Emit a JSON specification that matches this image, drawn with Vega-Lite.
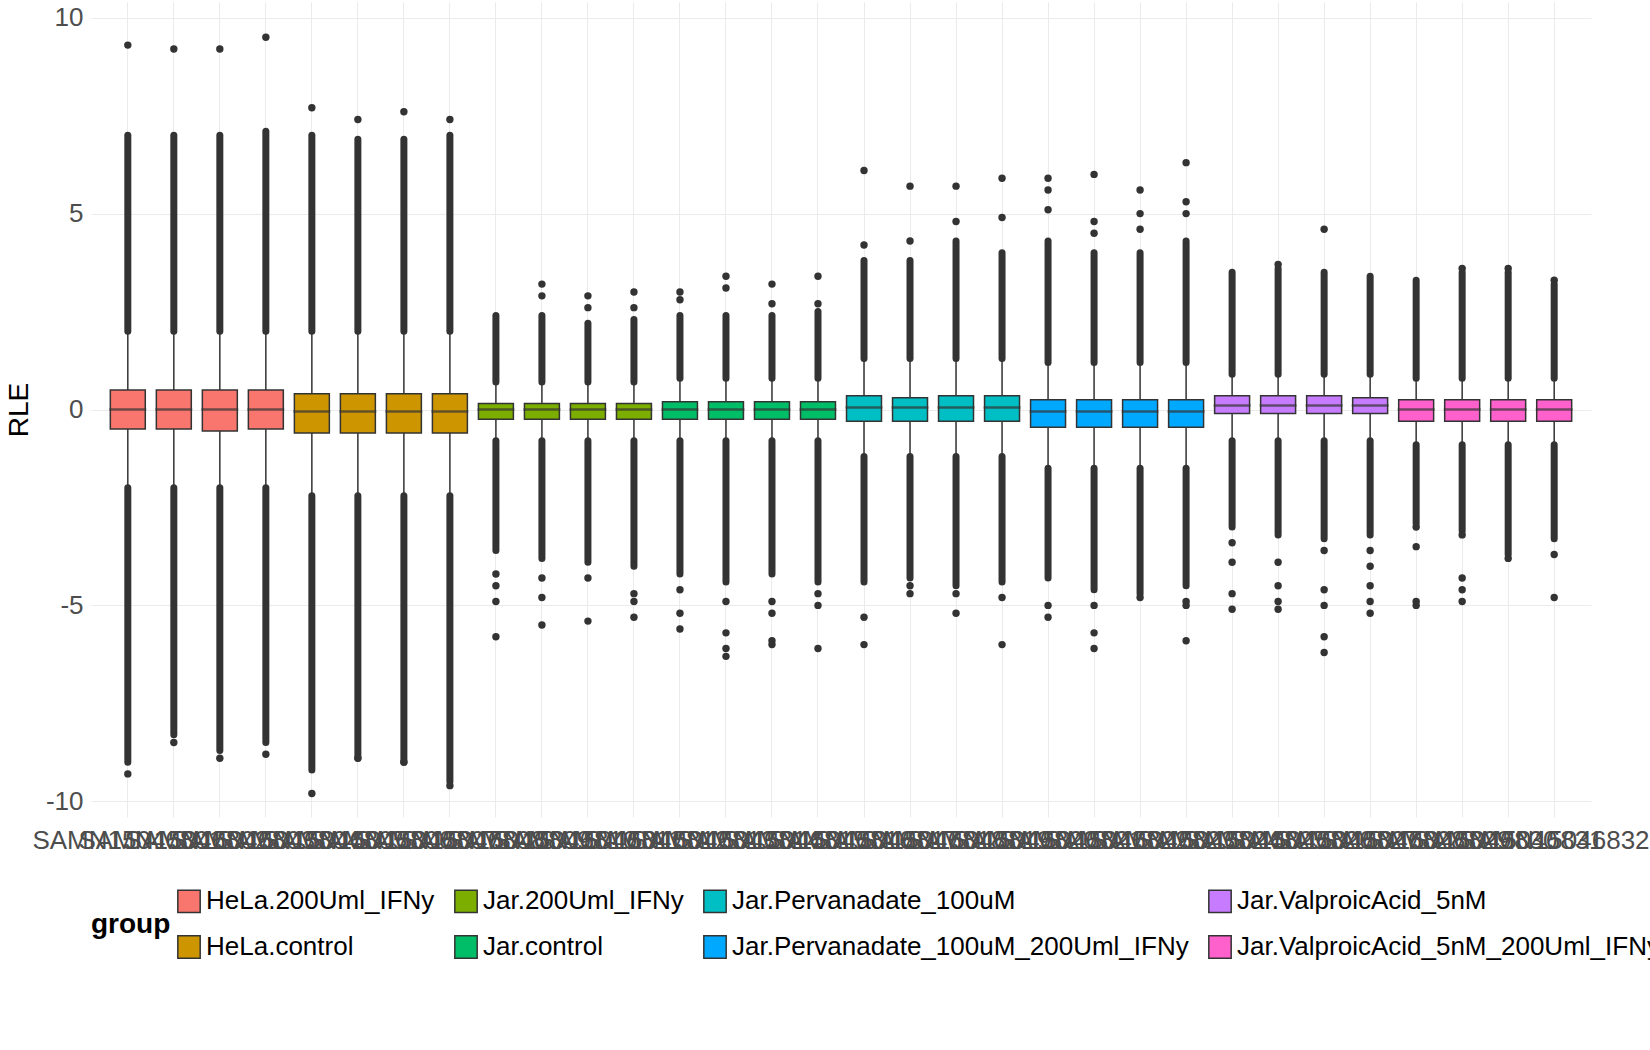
{
  "$schema": "https://vega.github.io/schema/vega-lite/v6.json",
  "width": 1500,
  "height": 815,
  "padding": {"left": 5, "top": 2, "right": 0, "bottom": 5},
  "datasets": {
    "boxes": [
      {"s": "SAMN15046801", "g": "HeLa.200Uml_IFNy", "lo": -2.0, "q1": -0.5, "med": 0.0, "q3": 0.5, "hi": 2.0, "du": 7.0, "dl": -9.0},
      {"s": "SAMN15046802", "g": "HeLa.200Uml_IFNy", "lo": -2.0, "q1": -0.5, "med": 0.0, "q3": 0.5, "hi": 2.0, "du": 7.0, "dl": -8.3},
      {"s": "SAMN15046803", "g": "HeLa.200Uml_IFNy", "lo": -2.0, "q1": -0.55, "med": 0.0, "q3": 0.5, "hi": 2.0, "du": 7.0, "dl": -8.7},
      {"s": "SAMN15046804", "g": "HeLa.200Uml_IFNy", "lo": -2.0, "q1": -0.5, "med": 0.0, "q3": 0.5, "hi": 2.0, "du": 7.1, "dl": -8.5},
      {"s": "SAMN15046805", "g": "HeLa.control", "lo": -2.2, "q1": -0.6, "med": -0.05, "q3": 0.4, "hi": 2.0, "du": 7.0, "dl": -9.2},
      {"s": "SAMN15046806", "g": "HeLa.control", "lo": -2.2, "q1": -0.6, "med": -0.05, "q3": 0.4, "hi": 2.0, "du": 6.9, "dl": -8.9},
      {"s": "SAMN15046807", "g": "HeLa.control", "lo": -2.2, "q1": -0.6, "med": -0.05, "q3": 0.4, "hi": 2.0, "du": 6.9, "dl": -9.0},
      {"s": "SAMN15046808", "g": "HeLa.control", "lo": -2.2, "q1": -0.6, "med": -0.05, "q3": 0.4, "hi": 2.0, "du": 7.0, "dl": -9.5},
      {"s": "SAMN15046809", "g": "Jar.200Uml_IFNy", "lo": -0.8, "q1": -0.25, "med": 0.0, "q3": 0.15, "hi": 0.7, "du": 2.4, "dl": -3.6},
      {"s": "SAMN15046810", "g": "Jar.200Uml_IFNy", "lo": -0.8, "q1": -0.25, "med": 0.0, "q3": 0.15, "hi": 0.7, "du": 2.4, "dl": -3.8},
      {"s": "SAMN15046811", "g": "Jar.200Uml_IFNy", "lo": -0.8, "q1": -0.25, "med": 0.0, "q3": 0.15, "hi": 0.7, "du": 2.2, "dl": -3.9},
      {"s": "SAMN15046812", "g": "Jar.200Uml_IFNy", "lo": -0.8, "q1": -0.25, "med": 0.0, "q3": 0.15, "hi": 0.7, "du": 2.3, "dl": -4.0},
      {"s": "SAMN15046813", "g": "Jar.control", "lo": -0.8, "q1": -0.25, "med": 0.0, "q3": 0.2, "hi": 0.8, "du": 2.4, "dl": -4.2},
      {"s": "SAMN15046814", "g": "Jar.control", "lo": -0.8, "q1": -0.25, "med": 0.0, "q3": 0.2, "hi": 0.8, "du": 2.4, "dl": -4.4},
      {"s": "SAMN15046815", "g": "Jar.control", "lo": -0.8, "q1": -0.25, "med": 0.0, "q3": 0.2, "hi": 0.8, "du": 2.4, "dl": -4.2},
      {"s": "SAMN15046816", "g": "Jar.control", "lo": -0.8, "q1": -0.25, "med": 0.0, "q3": 0.2, "hi": 0.8, "du": 2.5, "dl": -4.4},
      {"s": "SAMN15046817", "g": "Jar.Pervanadate_100uM", "lo": -1.2, "q1": -0.3, "med": 0.05, "q3": 0.35, "hi": 1.3, "du": 3.8, "dl": -4.4},
      {"s": "SAMN15046818", "g": "Jar.Pervanadate_100uM", "lo": -1.2, "q1": -0.3, "med": 0.05, "q3": 0.3, "hi": 1.3, "du": 3.8, "dl": -4.3},
      {"s": "SAMN15046819", "g": "Jar.Pervanadate_100uM", "lo": -1.2, "q1": -0.3, "med": 0.05, "q3": 0.35, "hi": 1.3, "du": 4.3, "dl": -4.5},
      {"s": "SAMN15046820", "g": "Jar.Pervanadate_100uM", "lo": -1.2, "q1": -0.3, "med": 0.05, "q3": 0.35, "hi": 1.3, "du": 4.0, "dl": -4.4},
      {"s": "SAMN15046821", "g": "Jar.Pervanadate_100uM_200Uml_IFNy", "lo": -1.5, "q1": -0.45, "med": -0.05, "q3": 0.25, "hi": 1.2, "du": 4.3, "dl": -4.3},
      {"s": "SAMN15046822", "g": "Jar.Pervanadate_100uM_200Uml_IFNy", "lo": -1.5, "q1": -0.45, "med": -0.05, "q3": 0.25, "hi": 1.2, "du": 4.0, "dl": -4.6},
      {"s": "SAMN15046823", "g": "Jar.Pervanadate_100uM_200Uml_IFNy", "lo": -1.5, "q1": -0.45, "med": -0.05, "q3": 0.25, "hi": 1.2, "du": 4.0, "dl": -4.7},
      {"s": "SAMN15046824", "g": "Jar.Pervanadate_100uM_200Uml_IFNy", "lo": -1.5, "q1": -0.45, "med": -0.05, "q3": 0.25, "hi": 1.2, "du": 4.3, "dl": -4.5},
      {"s": "SAMN15046825", "g": "Jar.ValproicAcid_5nM", "lo": -0.8, "q1": -0.1, "med": 0.1, "q3": 0.35, "hi": 0.9, "du": 3.5, "dl": -3.0},
      {"s": "SAMN15046826", "g": "Jar.ValproicAcid_5nM", "lo": -0.8, "q1": -0.1, "med": 0.1, "q3": 0.35, "hi": 0.9, "du": 3.6, "dl": -3.2},
      {"s": "SAMN15046827", "g": "Jar.ValproicAcid_5nM", "lo": -0.8, "q1": -0.1, "med": 0.1, "q3": 0.35, "hi": 0.9, "du": 3.5, "dl": -3.3},
      {"s": "SAMN15046828", "g": "Jar.ValproicAcid_5nM", "lo": -0.8, "q1": -0.1, "med": 0.1, "q3": 0.3, "hi": 0.9, "du": 3.4, "dl": -3.2},
      {"s": "SAMN15046829", "g": "Jar.ValproicAcid_5nM_200Uml_IFNy", "lo": -0.9, "q1": -0.3, "med": 0.0, "q3": 0.25, "hi": 0.8, "du": 3.3, "dl": -2.9},
      {"s": "SAMN15046830", "g": "Jar.ValproicAcid_5nM_200Uml_IFNy", "lo": -0.9, "q1": -0.3, "med": 0.0, "q3": 0.25, "hi": 0.8, "du": 3.5, "dl": -3.1},
      {"s": "SAMN15046831", "g": "Jar.ValproicAcid_5nM_200Uml_IFNy", "lo": -0.9, "q1": -0.3, "med": 0.0, "q3": 0.25, "hi": 0.8, "du": 3.5, "dl": -3.7},
      {"s": "SAMN15046832", "g": "Jar.ValproicAcid_5nM_200Uml_IFNy", "lo": -0.9, "q1": -0.3, "med": 0.0, "q3": 0.25, "hi": 0.8, "du": 3.2, "dl": -3.3}
    ],
    "outliers": [
      {"s": "SAMN15046801", "v": 9.3}, {"s": "SAMN15046801", "v": -9.3},
      {"s": "SAMN15046802", "v": 9.2}, {"s": "SAMN15046802", "v": -8.5},
      {"s": "SAMN15046803", "v": 9.2}, {"s": "SAMN15046803", "v": -8.9},
      {"s": "SAMN15046804", "v": 9.5}, {"s": "SAMN15046804", "v": -8.8},
      {"s": "SAMN15046805", "v": 7.7}, {"s": "SAMN15046805", "v": -9.8},
      {"s": "SAMN15046806", "v": 7.4}, {"s": "SAMN15046806", "v": -8.9},
      {"s": "SAMN15046807", "v": 7.6}, {"s": "SAMN15046807", "v": -9.0},
      {"s": "SAMN15046808", "v": 7.4}, {"s": "SAMN15046808", "v": -9.6},
      {"s": "SAMN15046809", "v": -4.2}, {"s": "SAMN15046809", "v": -4.5}, {"s": "SAMN15046809", "v": -4.9}, {"s": "SAMN15046809", "v": -5.8},
      {"s": "SAMN15046810", "v": 3.2}, {"s": "SAMN15046810", "v": 2.9}, {"s": "SAMN15046810", "v": -4.3}, {"s": "SAMN15046810", "v": -4.8}, {"s": "SAMN15046810", "v": -5.5},
      {"s": "SAMN15046811", "v": 2.9}, {"s": "SAMN15046811", "v": 2.6}, {"s": "SAMN15046811", "v": -4.3}, {"s": "SAMN15046811", "v": -5.4},
      {"s": "SAMN15046812", "v": 3.0}, {"s": "SAMN15046812", "v": 2.6}, {"s": "SAMN15046812", "v": -4.7}, {"s": "SAMN15046812", "v": -4.9}, {"s": "SAMN15046812", "v": -5.3},
      {"s": "SAMN15046813", "v": 3.0}, {"s": "SAMN15046813", "v": 2.8}, {"s": "SAMN15046813", "v": -4.6}, {"s": "SAMN15046813", "v": -5.2}, {"s": "SAMN15046813", "v": -5.6},
      {"s": "SAMN15046814", "v": 3.4}, {"s": "SAMN15046814", "v": 3.1}, {"s": "SAMN15046814", "v": -4.9}, {"s": "SAMN15046814", "v": -5.7}, {"s": "SAMN15046814", "v": -6.1}, {"s": "SAMN15046814", "v": -6.3},
      {"s": "SAMN15046815", "v": 3.2}, {"s": "SAMN15046815", "v": 2.7}, {"s": "SAMN15046815", "v": -4.9}, {"s": "SAMN15046815", "v": -5.2}, {"s": "SAMN15046815", "v": -5.9}, {"s": "SAMN15046815", "v": -6.0},
      {"s": "SAMN15046816", "v": 3.4}, {"s": "SAMN15046816", "v": 2.7}, {"s": "SAMN15046816", "v": -4.7}, {"s": "SAMN15046816", "v": -5.0}, {"s": "SAMN15046816", "v": -6.1},
      {"s": "SAMN15046817", "v": 6.1}, {"s": "SAMN15046817", "v": 4.2}, {"s": "SAMN15046817", "v": -5.3}, {"s": "SAMN15046817", "v": -6.0},
      {"s": "SAMN15046818", "v": 5.7}, {"s": "SAMN15046818", "v": 4.3}, {"s": "SAMN15046818", "v": -4.5}, {"s": "SAMN15046818", "v": -4.7},
      {"s": "SAMN15046819", "v": 5.7}, {"s": "SAMN15046819", "v": 4.8}, {"s": "SAMN15046819", "v": -4.7}, {"s": "SAMN15046819", "v": -5.2},
      {"s": "SAMN15046820", "v": 5.9}, {"s": "SAMN15046820", "v": 4.9}, {"s": "SAMN15046820", "v": -4.8}, {"s": "SAMN15046820", "v": -6.0},
      {"s": "SAMN15046821", "v": 5.9}, {"s": "SAMN15046821", "v": 5.6}, {"s": "SAMN15046821", "v": 5.1}, {"s": "SAMN15046821", "v": -5.0}, {"s": "SAMN15046821", "v": -5.3},
      {"s": "SAMN15046822", "v": 6.0}, {"s": "SAMN15046822", "v": 4.8}, {"s": "SAMN15046822", "v": 4.5}, {"s": "SAMN15046822", "v": -5.0}, {"s": "SAMN15046822", "v": -5.7}, {"s": "SAMN15046822", "v": -6.1},
      {"s": "SAMN15046823", "v": 5.6}, {"s": "SAMN15046823", "v": 5.0}, {"s": "SAMN15046823", "v": 4.6}, {"s": "SAMN15046823", "v": -4.8},
      {"s": "SAMN15046824", "v": 6.3}, {"s": "SAMN15046824", "v": 5.3}, {"s": "SAMN15046824", "v": 5.0}, {"s": "SAMN15046824", "v": -4.9}, {"s": "SAMN15046824", "v": -5.0}, {"s": "SAMN15046824", "v": -5.9},
      {"s": "SAMN15046825", "v": -3.4}, {"s": "SAMN15046825", "v": -3.9}, {"s": "SAMN15046825", "v": -4.7}, {"s": "SAMN15046825", "v": -5.1},
      {"s": "SAMN15046826", "v": 3.7}, {"s": "SAMN15046826", "v": -3.9}, {"s": "SAMN15046826", "v": -4.5}, {"s": "SAMN15046826", "v": -4.9}, {"s": "SAMN15046826", "v": -5.1},
      {"s": "SAMN15046827", "v": 4.6}, {"s": "SAMN15046827", "v": -3.6}, {"s": "SAMN15046827", "v": -4.6}, {"s": "SAMN15046827", "v": -5.0}, {"s": "SAMN15046827", "v": -5.8}, {"s": "SAMN15046827", "v": -6.2},
      {"s": "SAMN15046828", "v": -3.6}, {"s": "SAMN15046828", "v": -4.0}, {"s": "SAMN15046828", "v": -4.5}, {"s": "SAMN15046828", "v": -4.9}, {"s": "SAMN15046828", "v": -5.2},
      {"s": "SAMN15046829", "v": -3.0}, {"s": "SAMN15046829", "v": -3.5}, {"s": "SAMN15046829", "v": -4.9}, {"s": "SAMN15046829", "v": -5.0},
      {"s": "SAMN15046830", "v": 3.6}, {"s": "SAMN15046830", "v": -3.2}, {"s": "SAMN15046830", "v": -4.3}, {"s": "SAMN15046830", "v": -4.6}, {"s": "SAMN15046830", "v": -4.9},
      {"s": "SAMN15046831", "v": 3.6}, {"s": "SAMN15046831", "v": -3.8},
      {"s": "SAMN15046832", "v": 3.3}, {"s": "SAMN15046832", "v": -3.7}, {"s": "SAMN15046832", "v": -4.8}
    ]
  },
  "layer": [
    {
      "data": {"name": "boxes"},
      "mark": {"type": "rule", "color": "#333333", "strokeWidth": 1.5},
      "encoding": {
        "x": {
          "field": "s",
          "type": "nominal",
          "title": null,
          "scale": {"paddingInner": 0.2, "paddingOuter": 0.4},
          "axis": {"labelAngle": 0, "labelOverlap": false, "labelLimit": 400, "labelFontSize": 26, "labelColor": "#4d4d4d", "ticks": false, "domain": false, "grid": true, "gridColor": "#ebebeb", "labelPadding": 10}
        },
        "y": {
          "field": "lo",
          "type": "quantitative",
          "title": "RLE",
          "scale": {"domain": [-10.4, 10.4], "nice": false, "zero": false},
          "axis": {"values": [-10, -5, 0, 5, 10], "labelExpr": "replace(datum.label, '\u2212', '-')", "labelFontSize": 26, "labelColor": "#4d4d4d", "titleFontSize": 28, "titleFontWeight": "normal", "titleColor": "#000000", "ticks": false, "domain": false, "gridColor": "#ebebeb", "labelPadding": 8, "titlePadding": 12}
        },
        "y2": {"field": "hi"}
      }
    },
    {
      "data": {"name": "boxes"},
      "mark": {"type": "rule", "color": "#333333", "strokeWidth": 7, "strokeCap": "round"},
      "encoding": {"x": {"field": "s", "type": "nominal"}, "y": {"field": "hi", "type": "quantitative", "title": "RLE"}, "y2": {"field": "du"}}
    },
    {
      "data": {"name": "boxes"},
      "mark": {"type": "rule", "color": "#333333", "strokeWidth": 7, "strokeCap": "round"},
      "encoding": {"x": {"field": "s", "type": "nominal"}, "y": {"field": "lo", "type": "quantitative", "title": "RLE"}, "y2": {"field": "dl"}}
    },
    {
      "data": {"name": "boxes"},
      "mark": {"type": "bar", "stroke": "#333333", "strokeWidth": 1.5, "width": {"band": 0.95}},
      "encoding": {
        "x": {"field": "s", "type": "nominal"},
        "y": {"field": "q1", "type": "quantitative", "title": "RLE"},
        "y2": {"field": "q3"},
        "color": {
          "field": "g",
          "type": "nominal",
          "title": "group",
          "scale": {
            "domain": ["HeLa.200Uml_IFNy", "Jar.200Uml_IFNy", "Jar.Pervanadate_100uM", "Jar.ValproicAcid_5nM", "HeLa.control", "Jar.control", "Jar.Pervanadate_100uM_200Uml_IFNy", "Jar.ValproicAcid_5nM_200Uml_IFNy"],
            "range": ["#F8766D", "#7CAE00", "#00BFC4", "#C77CFF", "#CD9600", "#00BE67", "#00A9FF", "#FF61CC"]
          },
          "legend": {
            "orient": "bottom",
            "direction": "horizontal",
            "columns": 4,
            "titleOrient": "left",
            "titleFontSize": 28,
            "titleFontWeight": "bold",
            "titleColor": "#000000",
            "labelFontSize": 26,
            "labelColor": "#000000",
            "symbolType": "square",
            "symbolSize": 500,
            "symbolStrokeColor": "#333333",
            "symbolStrokeWidth": 1.5,
            "rowPadding": 16,
            "columnPadding": 16,
            "labelLimit": 600,
            "offset": 35
          }
        }
      }
    },
    {
      "data": {"name": "boxes"},
      "mark": {"type": "tick", "color": "#333333", "thickness": 2.5, "bandSize": 37},
      "encoding": {"x": {"field": "s", "type": "nominal"}, "y": {"field": "med", "type": "quantitative", "title": "RLE"}}
    },
    {
      "data": {"name": "outliers"},
      "mark": {"type": "circle", "color": "#333333", "opacity": 1, "size": 55},
      "encoding": {"x": {"field": "s", "type": "nominal"}, "y": {"field": "v", "type": "quantitative", "title": "RLE"}}
    },
    {
      "mark": {"type": "rule", "color": "#e41a1c", "strokeDash": [7, 5], "strokeWidth": 1.5},
      "encoding": {"y": {"datum": 0, "type": "quantitative"}}
    }
  ],
  "config": {
    "view": {"stroke": null},
    "font": "Liberation Sans"
  }
}
